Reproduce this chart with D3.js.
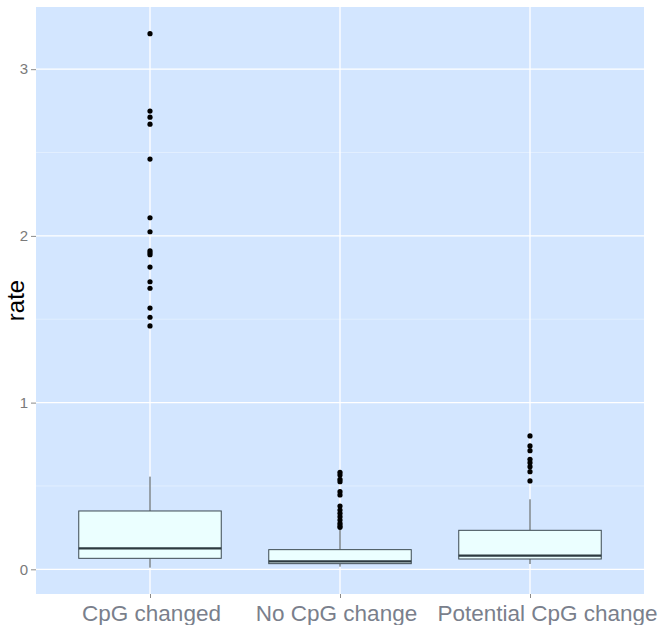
<!DOCTYPE html>
<html><head><meta charset="utf-8">
<script src="https://cdn.jsdelivr.net/npm/d3@7"></script>
<style>html,body{margin:0;padding:0;background:#fff;}svg{display:block;font-family:"Liberation Sans",Arial,Helvetica,sans-serif;}</style>
</head><body>
<script>
const categories = ["CpG changed", "No CpG change", "Potential CpG change"];
// box stats: [whiskerLow, q1, median, q3, whiskerHigh]
const boxStats = [
  [0.01, 0.066, 0.126, 0.35, 0.556],
  [0.016, 0.034, 0.048, 0.118, 0.236],
  [0.032, 0.062, 0.082, 0.234, 0.42]
];
const outliers = [
  [3.213, 2.749, 2.712, 2.67, 2.461, 2.109, 2.025, 1.911, 1.899, 1.887, 1.813, 1.725, 1.686, 1.567, 1.512, 1.46],
  [0.582, 0.566, 0.54, 0.526, 0.466, 0.446, 0.38, 0.356, 0.336, 0.316, 0.296, 0.276, 0.262, 0.252],
  [0.8, 0.74, 0.712, 0.66, 0.64, 0.616, 0.586, 0.53]
];
const yTicks = [0, 1, 2, 3];
const yMinor = [0.5, 1.5, 2.5];
const yLabel = "rate";

const W = 664, H = 625;
const panel = {left: 36, top: 7, right: 644, bottom: 594};
const svg = d3.select("body").append("svg").attr("width", W).attr("height", H);

const x = d3.scalePoint().domain(categories).range([panel.left, panel.right]).padding(0.6);
const step = x.step();
const y = d3.scaleLinear().domain([-0.148, 3.373]).range([panel.bottom, panel.top]);

svg.append("rect").attr("x", panel.left).attr("y", panel.top)
  .attr("width", panel.right - panel.left).attr("height", panel.bottom - panel.top)
  .attr("fill", "#d3e6ff");

const g = svg.append("g");
g.selectAll(".minor").data(yMinor).join("line")
  .attr("x1", panel.left).attr("x2", panel.right)
  .attr("y1", d => y(d)).attr("y2", d => y(d))
  .attr("stroke", "#e6f1ff").attr("stroke-width", 0.8);
g.selectAll(".major").data(yTicks).join("line")
  .attr("x1", panel.left).attr("x2", panel.right)
  .attr("y1", d => y(d)).attr("y2", d => y(d))
  .attr("stroke", "#ffffff").attr("stroke-width", 1.3);
g.selectAll(".vmajor").data(categories).join("line")
  .attr("x1", d => x(d)).attr("x2", d => x(d))
  .attr("y1", panel.top).attr("y2", panel.bottom)
  .attr("stroke", "#ffffff").attr("stroke-width", 1.3);

const bw = step * 0.75;
const stroke = "#3d4a52";
categories.forEach((c, i) => {
  const s = boxStats[i];
  const cx = x(c);
  const bg = svg.append("g");
  bg.append("line").attr("x1", cx).attr("x2", cx).attr("y1", y(s[3])).attr("y2", y(s[4]))
    .attr("stroke", stroke).attr("stroke-width", 1);
  bg.append("line").attr("x1", cx).attr("x2", cx).attr("y1", y(s[0])).attr("y2", y(s[1]))
    .attr("stroke", stroke).attr("stroke-width", 1);
  bg.append("rect").attr("x", cx - bw / 2).attr("width", bw)
    .attr("y", y(s[3])).attr("height", y(s[1]) - y(s[3]))
    .attr("fill", "#ebffff").attr("stroke", stroke).attr("stroke-width", 1);
  bg.append("line").attr("x1", cx - bw / 2).attr("x2", cx + bw / 2)
    .attr("y1", y(s[2])).attr("y2", y(s[2]))
    .attr("stroke", "#2d3a40").attr("stroke-width", 2.2);
  bg.selectAll("circle").data(outliers[i]).join("circle")
    .attr("cx", cx).attr("cy", d => y(d)).attr("r", 2.6).attr("fill", "#000");
});

// y axis
const yAxis = d3.axisLeft(y).tickValues(yTicks).tickSize(5).tickPadding(3).tickFormat(d3.format("d"));
const ya = svg.append("g").attr("transform", `translate(${panel.left},0)`).call(yAxis);
ya.select(".domain").remove();
ya.selectAll(".tick line").attr("stroke", "#8a8a8a");
ya.selectAll(".tick text").attr("fill", "#7a7a7a").attr("font-size", 15).attr("font-family", "Liberation Sans, Arial, sans-serif");

// x axis
const xAxis = d3.axisBottom(x).tickSize(4).tickPadding(2);
const xa = svg.append("g").attr("transform", `translate(0,${panel.bottom})`).call(xAxis);
xa.select(".domain").remove();
xa.selectAll(".tick line").attr("stroke", "#8a8a8a");
xa.selectAll(".tick text").attr("fill", "#7a7f8c").attr("font-size", 22.5)
  .attr("font-family", "Liberation Sans, Arial, sans-serif")
  .attr("dy", "0.95em")
  .attr("dx", (d, i) => i === 2 ? 17 : (i === 1 ? -4 : 1));

svg.append("text").attr("transform", `translate(24,${(panel.top + panel.bottom) / 2}) rotate(-90)`)
  .attr("text-anchor", "middle").attr("font-size", 24).attr("fill", "#000").text(yLabel);
</script>
</body></html>
